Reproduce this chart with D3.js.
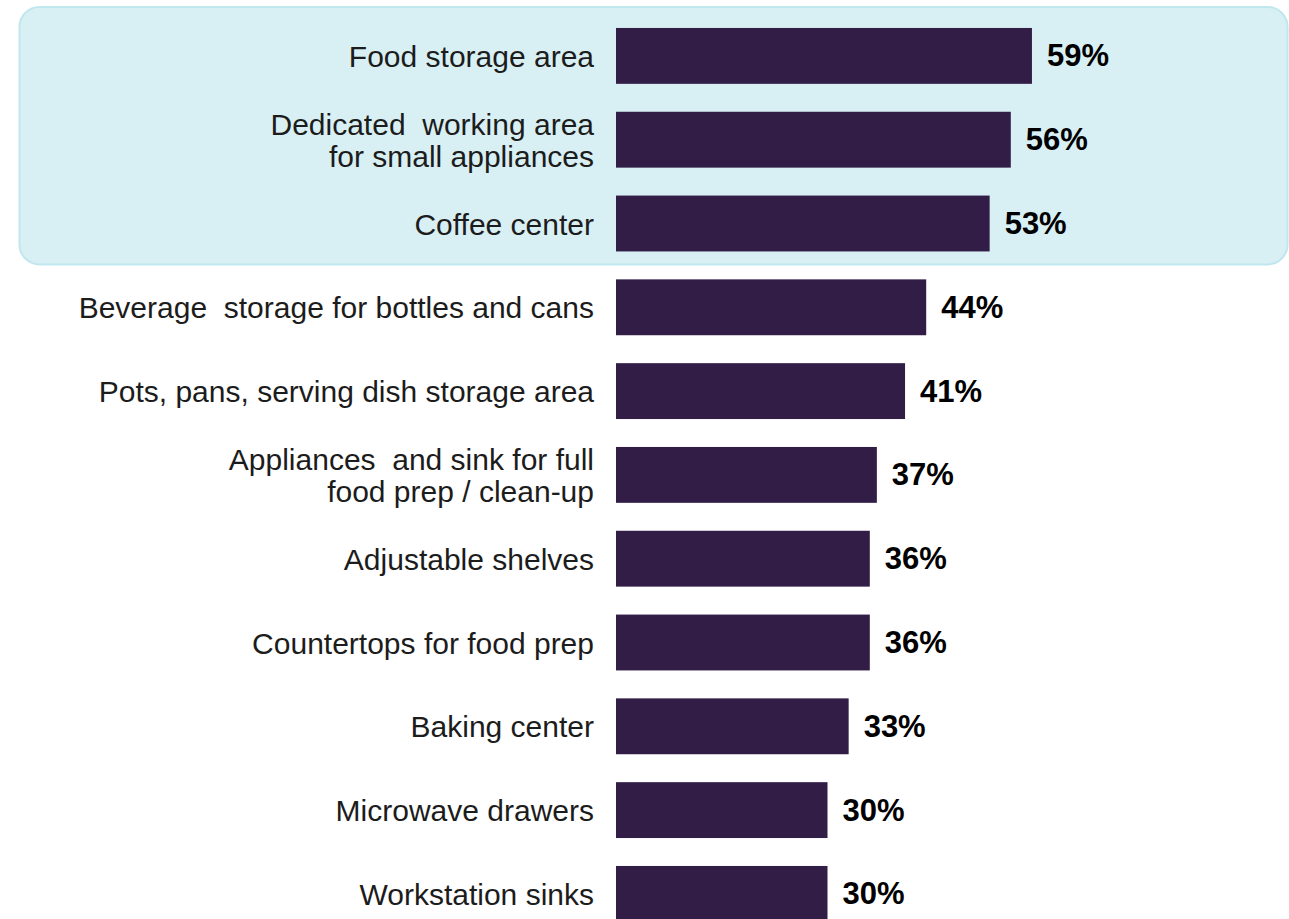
<!DOCTYPE html>
<html>
<head>
<meta charset="utf-8">
<script src="https://cdn.jsdelivr.net/npm/d3@7"></script>
<style>
  html, body { margin: 0; padding: 0; background: #ffffff; }
  svg { display: block; }
</style>
</head>
<body>
<svg id="chart" width="1289" height="919"></svg>
<script>
// Kitchen features, share of respondents (%)
const categories = [
  "Food storage area",
  "Dedicated  working area\nfor small appliances",
  "Coffee center",
  "Beverage  storage for bottles and cans",
  "Pots, pans, serving dish storage area",
  "Appliances  and sink for full\nfood prep / clean-up",
  "Adjustable shelves",
  "Countertops for food prep",
  "Baking center",
  "Microwave drawers",
  "Workstation sinks"
];
const values = [59, 56, 53, 44, 41, 37, 36, 36, 33, 30, 30];
const valueLabels = ["59%", "56%", "53%", "44%", "41%", "37%", "36%", "36%", "33%", "30%", "30%"];
// The top three features are grouped in a highlighted panel
const highlighted = categories.slice(0, 3);

const svg = d3.select("#chart");
const data = categories.map((c, i) => ({ cat: c, value: values[i], label: valueLabels[i] }));

const x = d3.scaleLinear().domain([0, 100]).range([616, 616 + 705]);
const y = d3.scaleBand()
  .domain(categories)
  .range([14, 14 + categories.length * 83.8])
  .paddingInner(1 / 3)
  .paddingOuter(1 / 6);

// Highlight panel behind the top group
const hTop = y(highlighted[0]) - 21;
const hBottom = y(highlighted[highlighted.length - 1]) + y.bandwidth() + 13;
svg.append("rect")
  .attr("x", 19.5)
  .attr("y", hTop)
  .attr("width", 1268)
  .attr("height", hBottom - hTop)
  .attr("rx", 20)
  .attr("fill", "#d8f0f4")
  .attr("stroke", "#c0e6ee")
  .attr("stroke-width", 2);

// Bars
svg.append("g").selectAll("rect")
  .data(data)
  .join("rect")
  .attr("x", x(0))
  .attr("y", d => y(d.cat))
  .attr("width", d => x(d.value) - x(0))
  .attr("height", y.bandwidth())
  .attr("fill", "#321d47");

// Category labels (right-aligned, may wrap onto two lines)
const labelFont = 30;
const lineGap = 32;
const catG = svg.append("g")
  .attr("font-family", "'Liberation Sans', Arial, Helvetica, sans-serif")
  .attr("font-size", labelFont)
  .attr("fill", "#1c1c1c")
  .attr("text-anchor", "end");

data.forEach(d => {
  const lines = d.cat.split("\n");
  const cy = y(d.cat) + y.bandwidth() / 2;
  const t = catG.append("text").attr("xml:space", "preserve");
  lines.forEach((ln, j) => {
    const off = (j - (lines.length - 1) / 2) * lineGap;
    t.append("tspan")
      .attr("x", 594)
      .attr("y", cy + off + 11)
      .text(ln);
  });
});

// Value labels
svg.append("g")
  .attr("font-family", "'Liberation Sans', Arial, Helvetica, sans-serif")
  .attr("font-size", 31)
  .attr("font-weight", "bold")
  .attr("fill", "#000000")
  .selectAll("text")
  .data(data)
  .join("text")
  .attr("x", d => x(d.value) + 15)
  .attr("y", d => y(d.cat) + y.bandwidth() / 2 + 10.5)
  .text(d => d.label);
</script>
</body>
</html>
